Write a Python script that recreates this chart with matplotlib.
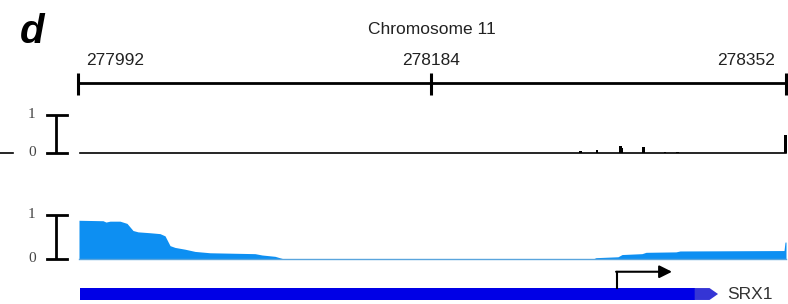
import matplotlib.pyplot as plt

W, H = 788, 304

panel_label = 'd'
chrom_name = 'Chromosome 11'

# ruler: genomic positions and where they sit along the window (percent)
ruler_labels = ['277992', '278184', '278352']
ruler_pos = [0, 49.9, 100]

# upper track: sparse signal spikes (position %, value 0-1)
spike_x = [71.0, 73.3, 76.6, 76.8, 79.9, 82.9, 84.7, 99.9]
spike_y = [0.04, 0.06, 0.18, 0.12, 0.15, 0.03, 0.03, 0.48]

# lower track: coverage profile (position %, value 0-1)
cov_x = [0.14, 3.53, 3.95, 4.52, 5.93, 6.92, 7.77, 8.47, 10.17, 11.58,
         12.29, 13.0, 13.7, 15.11, 16.53, 18.64, 25.0, 25.99, 27.82, 29.1,
         72.74, 73.16, 76.27, 76.84, 79.66, 80.23, 84.46, 85.03, 99.72,
         99.86, 100]
cov_y = [0.87, 0.86, 0.83, 0.85, 0.85, 0.80, 0.64, 0.61, 0.59, 0.57,
         0.52, 0.30, 0.26, 0.22, 0.17, 0.14, 0.12, 0.09, 0.06, 0.0,
         0.0, 0.03, 0.05, 0.10, 0.12, 0.15, 0.16, 0.18, 0.19,
         0.38, 0.38]

# gene model
gene_name = 'SRX1'
gene_start, gene_cds_end, gene_end = 0.3, 87.1, 90.4
tss = 76.1
tss_arrow_end = 83.9

fig = plt.figure(figsize=(W / 100, H / 100), dpi=100)


def px_axes(top, bottom):
    ax = fig.add_axes([78 / W, 1 - bottom / H, 708 / W, (bottom - top) / H])
    ax.set_xlim(0, 100)
    ax.set_ylim(0, 1)
    ax.axis('off')
    return ax


def scale_bar(ax):
    ax.plot([-3.1, -3.1], [0, 1], color='k', lw=2, clip_on=False,
            solid_capstyle='butt')
    ax.plot([-4.4, -1.6], [1, 1], color='k', lw=2, clip_on=False)
    ax.plot([-4.4, -1.6], [0, 0], color='k', lw=2, clip_on=False)
    ax.text(-6.5, 1, '1', ha='center', va='center', fontsize=11,
            family='Liberation Serif', color='#444444', clip_on=False)
    ax.text(-6.5, 0, '0', ha='center', va='center', fontsize=11,
            family='Liberation Serif', color='#444444', clip_on=False)


fig.text(20 / W, 1 - 43 / H, panel_label, fontsize=29, fontweight='bold',
         fontstyle='italic', family='Liberation Sans', ha='left',
         va='baseline')

# ruler
ax_r = px_axes(70, 96)
ax_r.plot([0, 100], [0.51, 0.51], color='k', lw=2, clip_on=False)
ax_r.vlines(ruler_pos, 0.04, 0.9, color='k', lw=2.2, clip_on=False)
offsets = [(6, 0), (0, 0), (-8, 0)]
aligns = ['left', 'center', 'right']
for p, lab, off, ha in zip(ruler_pos, ruler_labels, offsets, aligns):
    ax_r.annotate(lab, xy=(p, 1.38), xytext=off, textcoords='offset points',
                  ha=ha, va='center', fontsize=12.5, family='Liberation Sans',
                  color='#222222', annotation_clip=False)
ax_r.text(50, 2.54, chrom_name, ha='center', va='center', fontsize=12.5,
          family='Liberation Sans', color='#222222', clip_on=False)

# upper track
ax_t = px_axes(115, 152.7)
ax_t.plot([0.3, 100], [0, 0], color='k', lw=1.2, clip_on=False)
ax_t.bar(spike_x, spike_y, width=0.4, color='k', clip_on=False)
scale_bar(ax_t)
ax_t.plot([-11, -9.2], [0, 0], color='k', lw=1.2, clip_on=False)

# lower track
ax_b = px_axes(214.5, 259)
ax_b.fill_between(cov_x, cov_y, 0, color='#0d8ff2', lw=0)
ax_b.plot([cov_x[0], cov_x[-1]], [0, 0], color='#5aa5dd', lw=1,
          clip_on=False)
scale_bar(ax_b)

# gene model
ax_g = px_axes(268, 302)
y0, y1 = 0.06, 0.41
ym = (y0 + y1) / 2
ax_g.fill([gene_start, gene_cds_end, gene_cds_end, gene_start],
          [y0, y0, y1, y1], color='#0000e6', lw=0)
ax_g.fill([gene_cds_end, gene_end - 1.2, gene_end, gene_end - 1.2,
           gene_cds_end], [y0, y0, ym, y1, y1], color='#3535d5', lw=0)
ax_g.plot([tss, tss], [y1, 0.89], color='k', lw=1.5)
ax_g.annotate('', xy=(tss_arrow_end, 0.89), xytext=(tss - 0.1, 0.89),
              arrowprops=dict(arrowstyle='-|>', mutation_scale=19, lw=1.5,
                              color='k', shrinkA=0, shrinkB=0))
ax_g.text(gene_end + 1.3, ym, gene_name, ha='left', va='center',
          fontsize=12.5, family='Liberation Sans', color='#333333')

fig.savefig('out.png', dpi=100)
